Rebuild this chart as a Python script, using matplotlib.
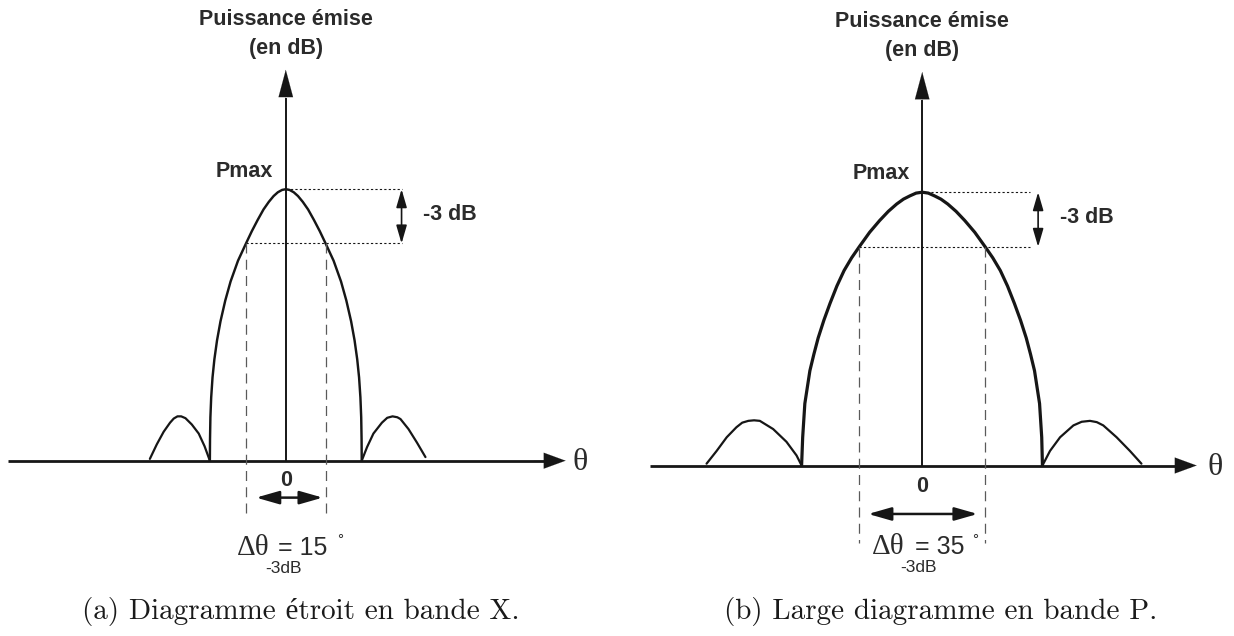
import matplotlib
matplotlib.use("Agg")
import matplotlib.pyplot as plt

# radiation patterns: angle in degrees, level in dB above the floor
# (a) narrow beam, X band
narrow_main_theta = [-14.3, -14.27, -14.2, -14.05, -13.8, -13.45, -12.95, -12.3, -11.4, -10.4, -9.0, -7.5,
                     -6.4, -5.3, -4.2, -3.2, -2.3, -1.5, -0.7, 0.0,
                     0.7, 1.5, 2.3, 3.2, 4.2, 5.3, 6.4,
                     7.5, 9.0, 10.4, 11.4, 12.3, 12.95, 13.45, 13.8, 14.05, 14.2, 14.27, 14.3]
narrow_main_level = [0.0, 1.2, 2.4, 3.5, 4.6, 5.6, 6.65, 7.7, 8.85, 9.9, 11.05, 12.0,
                     12.68, 13.3, 13.88, 14.3, 14.62, 14.83, 14.96, 15.0,
                     14.96, 14.83, 14.62, 14.3, 13.88, 13.3, 12.68,
                     12.0, 11.05, 9.9, 8.85, 7.7, 6.65, 5.6, 4.6, 3.5, 2.4, 1.2, 0.0]
narrow_side_l_theta = [-25.6, -24.3, -23.0, -21.8, -21.1, -20.4, -19.7, -18.9, -17.7, -16.4, -15.3, -14.3]
narrow_side_l_level = [0.1, 0.9, 1.6, 2.1, 2.33, 2.45, 2.45, 2.35, 2.0, 1.5, 0.8, 0.0]
narrow_side_r_theta = [14.3, 15.3, 16.5, 18.1, 19.1, 20.1, 21.0, 21.6, 23.1, 24.7, 26.3]
narrow_side_r_level = [0.0, 0.75, 1.5, 2.1, 2.37, 2.45, 2.4, 2.3, 1.75, 1.0, 0.2]

# (b) wide beam, P band
wide_main_theta = [-33.5, -33.2, -32.6, -31.2, -30.1, -28.9, -27.3, -25.6, -23.7, -21.7, -19.6,
                   -17.5, -14.6, -11.8, -9.4, -7.1, -5.2, -3.4, -1.7, 0.0,
                   1.7, 3.4, 5.2, 7.1, 9.4, 11.8, 14.6, 17.5, 19.6, 21.7, 23.7, 25.6, 27.3,
                   28.9, 30.1, 31.2, 32.6, 33.2, 33.4]
wide_main_level = [0.0, 1.55, 3.4, 5.2, 6.1, 7.0, 7.98, 8.9, 9.85, 10.7, 11.4,
                   12.0, 12.8, 13.45, 13.95, 14.35, 14.62, 14.8, 14.95, 15.0,
                   14.95, 14.8, 14.62, 14.35, 13.95, 13.45, 12.8, 12.0, 11.4, 10.7, 9.85, 8.9, 7.98,
                   7.0, 6.1, 5.2, 3.4, 1.55, 0.0]
wide_side_l_theta = [-59.9, -57.1, -54.3, -51.6, -50.0, -48.3, -46.7, -45.1, -41.4, -37.7, -34.9, -33.5]
wide_side_l_level = [0.1, 0.8, 1.55, 2.1, 2.35, 2.45, 2.48, 2.45, 2.0, 1.3, 0.55, 0.0]
wide_side_r_theta = [33.4, 35.5, 38.3, 42.0, 44.3, 46.6, 48.5, 50.3, 54.0, 57.7, 60.9]
wide_side_r_level = [0.0, 0.8, 1.55, 2.2, 2.4, 2.45, 2.38, 2.2, 1.55, 0.8, 0.1]

p_max = 15.0
drop_db = 3.0
beamwidths = [15, 35]
captions = ["(a) Diagramme étroit en bande X.", "(b) Large diagramme en bande P."]

INK = "#161616"
TXT = "#2b2b2b"
SANS = "Liberation Sans"
SERIF = ["cmr10", "Liberation Serif"]

fig = plt.figure(figsize=(12.34, 6.36), dpi=100)


def panel(rect, xlim, ylim, main, sides, bw, main_lw, axis_end, theta_x, pmax_x,
          dotted_end, arr_x, txt_x, dash_end, harrow, harrow_y, zero_y,
          label_x, eq_x, label_base, deg_pos, sub_pos):
    ax = fig.add_axes(rect)
    ax.set_xlim(*xlim)
    ax.set_ylim(*ylim)
    ax.axis("off")
    half = bw / 2.0
    p3 = p_max - drop_db

    # axes with arrow heads
    ax.plot([axis_end[0], axis_end[1] - 2], [0, 0], color=INK, lw=2.0, solid_capstyle="butt")
    ax.annotate("", xy=(axis_end[1], 0), xytext=(axis_end[1] - 6, 0),
                arrowprops=dict(arrowstyle="-|>,head_length=0.6,head_width=0.22",
                                mutation_scale=26, color=INK, lw=0.1, shrinkA=0, shrinkB=0))
    ax.plot([0, 0], [0, 20.0], color=INK, lw=1.4)
    ax.annotate("", xy=(0, 21.6), xytext=(0, 19.5),
                arrowprops=dict(arrowstyle="-|>,head_length=0.75,head_width=0.2",
                                mutation_scale=26, color=INK, lw=0.1, shrinkA=0, shrinkB=0))
    ax.text(theta_x, -0.1, "θ", family="Liberation Serif", fontsize=23,
            ha="center", va="center", color=TXT)
    ax.text(0, 24.35, "Puissance émise", family=SANS, weight="bold", fontsize=15.5,
            ha="center", va="center", color=TXT)
    ax.text(0, 22.75, "(en dB)", family=SANS, weight="bold", fontsize=15.5,
            ha="center", va="center", color=TXT)

    # pattern
    for th, lv in sides:
        ax.plot(th, lv, color=INK, lw=1.6, solid_joinstyle="round", solid_capstyle="round")
    ax.plot(main[0], main[1], color=INK, lw=main_lw, solid_joinstyle="round",
            solid_capstyle="round")

    # -3 dB construction
    ax.plot([0, dotted_end], [p_max, p_max], color=INK, lw=0.8, ls=(0, (2, 2)))
    ax.plot([-half, dotted_end], [p3, p3], color=INK, lw=0.8, ls=(0, (2, 2)))
    ax.annotate("", xy=(arr_x, p_max), xytext=(arr_x, p3),
                arrowprops=dict(arrowstyle="<|-|>,head_length=0.55,head_width=0.16",
                                mutation_scale=20, color=INK, lw=1.2, shrinkA=0, shrinkB=0))
    ax.text(txt_x, p_max - drop_db / 2 + 0.1, "-3 dB", family=SANS, weight="bold",
            fontsize=15.5, ha="left", va="center", color=TXT)
    ax.text(pmax_x, 16.0, "Pmax", family=SANS, weight="bold",
            fontsize=15.5, ha="right", va="center", color=TXT)

    for x in (-half, half):
        ax.plot([x, x], [p3, dash_end], color="#5a5a5a", lw=0.9, ls=(0, (8, 5)))

    ax.text(0, zero_y, "0", family=SANS, weight="bold", fontsize=15.5,
            ha="center", va="center", color=TXT)
    ax.annotate("", xy=(harrow[0], harrow_y), xytext=(harrow[1], harrow_y),
                arrowprops=dict(arrowstyle="<|-|>,head_length=0.7,head_width=0.2",
                                mutation_scale=20, color=INK, lw=1.8, shrinkA=0, shrinkB=0))

    # beamwidth label
    ax.text(label_x, label_base, "Δθ", family="Liberation Serif", fontsize=21,
            ha="left", va="baseline", color=TXT)
    ax.text(eq_x, label_base, "= %d" % bw, family=SANS, fontsize=18,
            ha="left", va="baseline", color=TXT)
    ax.text(deg_pos[0], deg_pos[1], "°", family=SANS, fontsize=11,
            ha="left", va="baseline", color=TXT)
    ax.text(sub_pos[0], sub_pos[1], "-3dB", family=SANS, fontsize=12.5,
            ha="left", va="baseline", color=TXT)
    return ax


# left panel: 5.31 px per degree, 18.1 px per dB, origin at (285.8, 175.3) px
panel([0, 0, 617 / 1234, 1],
      ((0 - 285.8) / 5.31, (617 - 285.8) / 5.31), (-175.3 / 18.1, (636 - 175.3) / 18.1),
      (narrow_main_theta, narrow_main_level),
      [(narrow_side_l_theta, narrow_side_l_level), (narrow_side_r_theta, narrow_side_r_level)],
      beamwidths[0], 1.75, axis_end=(-52.3, 52.7), theta_x=55.5, pmax_x=-2.4,
      dotted_end=21.8, arr_x=21.8, txt_x=25.9, dash_end=-3.17,
      harrow=(-5.6, 6.95), harrow_y=-2.04, zero_y=-1.07,
      label_x=-9.2, eq_x=-1.47, label_base=-5.21, deg_pos=(9.64, -4.6), sub_pos=(-3.9, -6.2))

# right panel: 3.6 px per degree, 18.22 px per dB, origin at (922.2, 170.5) px
panel([617 / 1234, 0, 617 / 1234, 1],
      ((617 - 922.2) / 3.6, (1234 - 922.2) / 3.6), (-170.5 / 18.22, (636 - 170.5) / 18.22),
      (wide_main_theta, wide_main_level),
      [(wide_side_l_theta, wide_side_l_level), (wide_side_r_theta, wide_side_r_level)],
      beamwidths[1], 2.3, axis_end=(-75.6, 76.25), theta_x=81.3, pmax_x=-3.4,
      dotted_end=29.9, arr_x=32.2, txt_x=38.3, dash_end=-4.25,
      harrow=(-15.0, 15.4), harrow_y=-2.66, zero_y=-1.15,
      label_x=-14.0, eq_x=-2.0, label_base=-4.86, deg_pos=(14.0, -4.31), sub_pos=(-6.2, -5.84))

fig.text(301 / 1234, 1 - 612 / 636, captions[0], family=SERIF, fontsize=21,
         ha="center", va="center", color="#1a1a1a")
fig.text(941 / 1234, 1 - 612 / 636, captions[1], family=SERIF, fontsize=21,
         ha="center", va="center", color="#1a1a1a")

fig.savefig("out.png", dpi=100, facecolor="white")
